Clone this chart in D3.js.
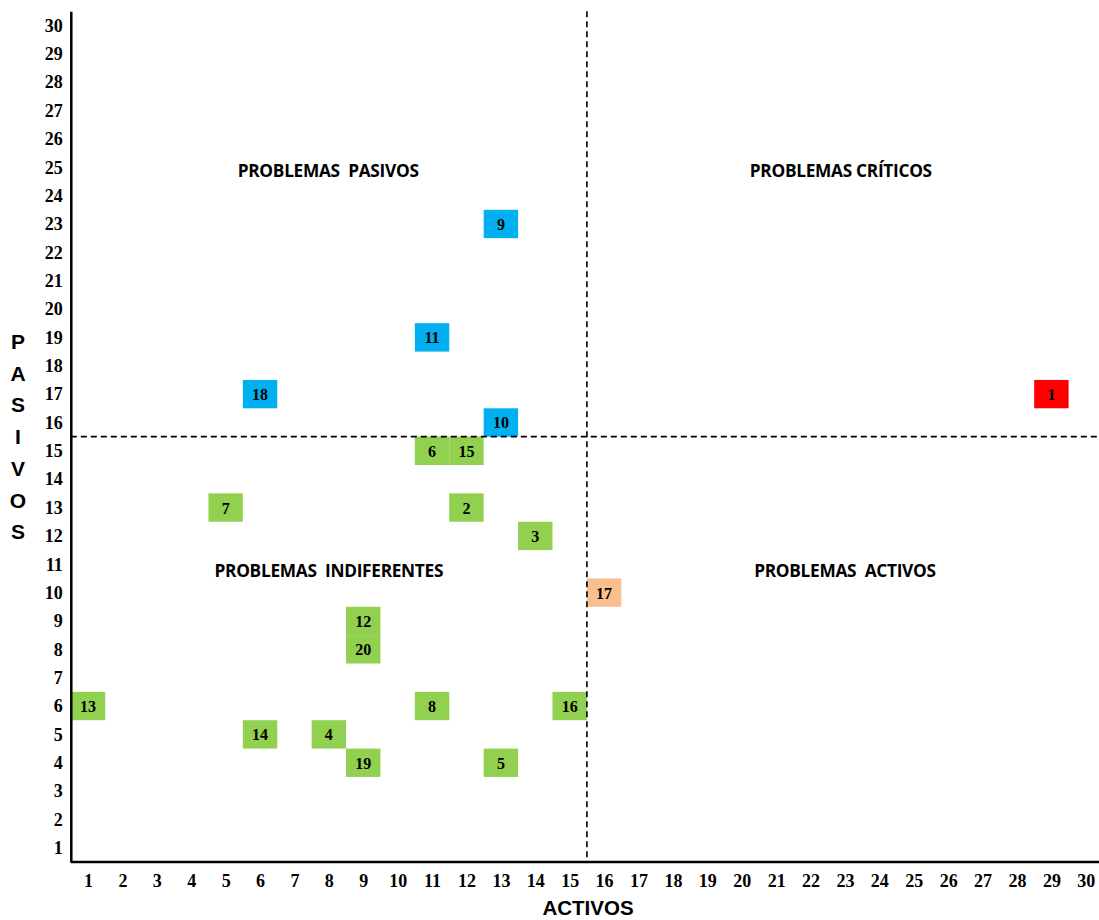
<!DOCTYPE html>
<html><head><meta charset="utf-8">
<script src="https://cdnjs.cloudflare.com/ajax/libs/d3/7.8.5/d3.min.js"></script>
<style>body{margin:0;background:#fff}svg text{white-space:pre}</style>
</head><body><svg id="c" width="1099" height="920"></svg>
<script>
const ticks = d3.range(1, 31);
const ids    = [1, 2, 3, 4, 5, 6, 7, 8, 9, 10, 11, 12, 13, 14, 15, 16, 17, 18, 19, 20];
const activos= [29,12,14, 8,13,11, 5,11,13,13,11, 9, 1, 6,12,15,16, 6, 9, 9];
const pasivos= [17,13,12, 5, 4,15,13, 6,23,16,19, 9, 6, 5,15, 6,10,17, 4, 8];
const groups = ["critico","indif","indif","indif","indif","indif","indif","indif","pasivo","pasivo","pasivo","indif","indif","indif","indif","indif","activo","pasivo","indif","indif"];
const colors = {critico:"#FF0000", indif:"#92D050", pasivo:"#00B0F0", activo:"#FABF8F"};
const quadrantLabels = [
  {t:"PROBLEMAS  PASIVOS", x:7.98, y:25},
  {t:"PROBLEMAS CRÍTICOS", x:22.88, y:25},
  {t:"PROBLEMAS  INDIFERENTES", x:8.0, y:10.9},
  {t:"PROBLEMAS  ACTIVOS", x:23.0, y:10.9}
];
const cut = 15.5;

const svg = d3.select("#c");
const x = d3.scaleLinear().domain([0.5, 30.5]).range([70.8, 1103]);
const y = d3.scaleLinear().domain([0.5, 30.5]).range([862, 11.3]);
const bw = x(1) - x(0), bh = y(0) - y(1);

// points
const data = ids.map((d,i)=>({id:d, a:activos[i], p:pasivos[i], g:groups[i]}));
const g = svg.append("g");
g.selectAll("rect").data(data).join("rect")
  .attr("x", d=>x(d.a)-bw/2).attr("y", d=>y(d.p)-bh/2)
  .attr("width", bw).attr("height", bh).attr("fill", d=>colors[d.g]);
g.selectAll("text").data(data).join("text")
  .attr("x", d=>x(d.a)).attr("y", d=>y(d.p)+6)
  .attr("text-anchor","middle")
  .attr("font-family","'Liberation Serif', serif").attr("font-weight","bold").attr("font-size",16)
  .text(d=>d.id);

// dashed cut lines
svg.append("line").attr("x1", x(cut)).attr("x2", x(cut)).attr("y1", y(30.5)).attr("y2", y(0.5))
  .attr("stroke","#000").attr("stroke-width",1.6).attr("stroke-dasharray","6,4");
svg.append("line").attr("x1", x(0.5)).attr("x2", 1099).attr("y1", y(cut)).attr("y2", y(cut))
  .attr("stroke","#000").attr("stroke-width",1.6).attr("stroke-dasharray","6,4");

// axes
const xAxis = svg.append("g").attr("transform",`translate(0,${y(0.5)})`)
  .call(d3.axisBottom(x).tickValues(ticks).tickSize(0).tickPadding(12).tickFormat(d3.format("d")));
const yAxis = svg.append("g").attr("transform",`translate(${x(0.5)},0)`)
  .call(d3.axisLeft(y).tickValues(ticks).tickSize(0).tickPadding(8).tickFormat(d3.format("d")));
[xAxis, yAxis].forEach(a=>{
  a.select(".domain").attr("stroke","#000").attr("stroke-width",2.5);
  a.selectAll("text").attr("font-family","'Liberation Serif', serif").attr("font-weight","bold")
   .attr("font-size",18).attr("fill","#000");
});
xAxis.select(".domain").attr("d", `M${x(0.5)},0H1099`);

// quadrant labels
svg.selectAll(".q").data(quadrantLabels).join("text")
  .attr("x", d=>x(d.x)).attr("y", d=>y(d.y)+10)
  .attr("text-anchor","middle")
  .attr("font-family","'Open Sans', sans-serif").attr("font-weight","bold").attr("font-size",17.3)
  .attr("letter-spacing", -0.3)
  .text(d=>d.t);

// axis titles
svg.append("text").attr("x", 588).attr("y", 915).attr("text-anchor","middle")
  .attr("font-family","'Liberation Sans', Arial, sans-serif").attr("font-weight","bold").attr("font-size",20.5)
  .text("ACTIVOS");
const ptxt = "PASIVOS".split("");
svg.selectAll(".p").data(ptxt).join("text")
  .attr("x", 18).attr("y", (d,i)=>349 + i*31.7).attr("text-anchor","middle")
  .attr("font-family","'Liberation Sans', Arial, sans-serif").attr("font-weight","bold").attr("font-size",21)
  .text(d=>d);
</script></body></html>
